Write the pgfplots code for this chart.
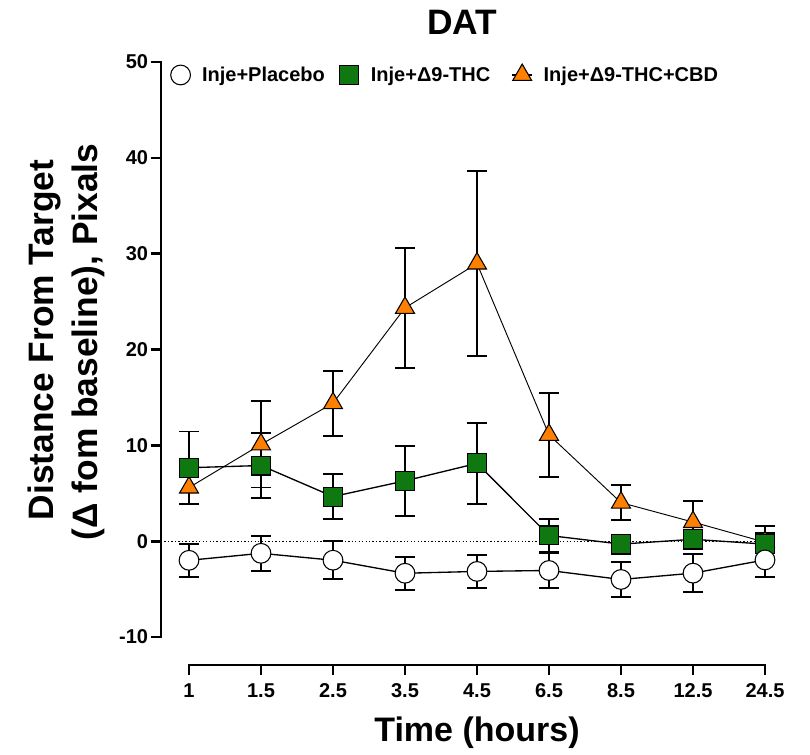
\documentclass[border=0pt]{standalone}
\usepackage{pgfplots}
\pgfplotsset{compat=1.18}
\usepackage{fontspec}
\setmainfont{Liberation Sans}
\definecolor{dgreen}{RGB}{16,120,16}
\definecolor{orng}{RGB}{255,128,0}
\begin{document}
\begin{tikzpicture}
\begin{axis}[
 at={(120.75pt,67.5pt)}, anchor=south west,
 scale only axis, width=475.5pt, height=452.25pt,
 xmin=-0.3889, xmax=8.4167, ymin=-12.912, ymax=50,
 axis x line*=bottom, axis y line*=left,
 axis line style={draw=none},
 clip=false,
 xtick={0,...,8}, xticklabels={1,1.5,2.5,3.5,4.5,6.5,8.5,12.5,24.5},
 ytick={-10,0,10,20,30,40,50}, yticklabels={-10,0,10,20,30,40,50},
 tick align=outside, major tick length=7.5pt,
 tick style={line width=2pt, black},
 ticklabel style={font=\fontsize{15}{18}\selectfont\bfseries},
 xticklabel style={inner ysep=6.5pt},
 yticklabel style={inner xsep=2pt},
 legend columns=3,
 legend image code/.code={\draw[mark repeat=2,mark phase=2,#1] plot coordinates {(0.5pt,0pt) (8pt,0pt) (15.5pt,0pt)};},
 legend style={at={(axis cs:-0.2667,48.7)}, anchor=west, draw=none, fill=none, inner sep=0pt,
   font=\fontsize{15}{18}\selectfont\bfseries, nodes={inner sep=0pt},
   /tikz/every odd column/.append style={column sep=8.2pt},
   /tikz/every even column/.append style={column sep=9.6pt}},
]
\addlegendimage{black, line width=0.8pt, mark=*, mark size=7.4pt, mark options={fill=white, draw=black, line width=0.8pt}}
\addlegendentry{\makebox[93pt][l]{Inje+Placebo}}
\addlegendimage{black, line width=0.8pt, mark=square*, mark size=7.1pt, mark options={fill=dgreen, draw=black, line width=0.8pt}}
\addlegendentry{\makebox[96pt][l]{Inje+Δ9-THC}}
\addlegendimage{black, line width=0.8pt, mark=triangle*, mark size=8.2pt, mark options={fill=orng, draw=black, line width=0.8pt}}
\addlegendentry{Inje+Δ9-THC+CBD}

\draw[line width=2pt, line cap=rect] (axis cs:-0.3889,-10) -- (axis cs:-0.3889,50);
\draw[line width=2pt, line cap=rect] (axis cs:0,-12.912) -- (axis cs:8,-12.912);

\addplot[forget plot, black, line width=0.8pt, dash pattern=on 1pt off 1.6pt] coordinates {(-0.3889,0) (8,0)};

% Inje + D9-THC + CBD (triangles)
\addplot[forget plot, black, line width=0.7pt, mark=triangle*, mark size=8.2pt,
  mark options={fill=orng, draw=black, line width=0.8pt, solid},
  error bars/.cd, y dir=both, y explicit,
  error bar style={line width=1.4pt, black, solid},
  error mark options={rotate=90, mark size=7.5pt, line width=1.4pt, black}]
  table[row sep=\\, x index=0, y index=1, y error index=2] {
  x y e\\
  0 5.60 1.70\\
  1 10.10 4.50\\
  2 14.40 3.40\\
  3 24.35 6.25\\
  4 28.97 9.67\\
  5 11.10 4.40\\
  6 4.03 1.80\\
  7 2.00 2.22\\
  8 -0.10 1.00\\
  };

% Inje + D9-THC (squares)
\addplot[forget plot, black, line width=1pt, mark=square*, mark size=7.1pt,
  mark options={fill=dgreen, draw=black, line width=0.8pt, solid},
  error bars/.cd, y dir=both, y explicit,
  error bar style={line width=1.4pt, black, solid},
  error mark options={rotate=90, mark size=7.5pt, line width=1.4pt, black}]
  table[row sep=\\, x index=0, y index=1, y error index=2] {
  x y e\\
  0 7.67 3.78\\
  1 7.90 3.37\\
  2 4.66 2.33\\
  3 6.30 3.65\\
  4 8.12 4.26\\
  5 0.60 1.75\\
  6 -0.30 1.00\\
  7 0.20 1.00\\
  8 -0.30 1.90\\
  };

% Inje + Placebo (circles)
\addplot[forget plot, black, line width=1pt, mark=*, mark size=7.4pt,
  mark options={fill=white, draw=black, line width=0.8pt, solid},
  error bars/.cd, y dir=both, y explicit,
  error bar style={line width=1.4pt, black, solid},
  error mark options={rotate=90, mark size=7.5pt, line width=1.4pt, black}]
  table[row sep=\\, x index=0, y index=1, y error index=2] {
  x y e\\
  0 -1.99 1.70\\
  1 -1.26 1.85\\
  2 -1.98 1.98\\
  3 -3.34 1.74\\
  4 -3.15 1.75\\
  5 -3.05 1.86\\
  6 -3.99 1.86\\
  7 -3.33 1.97\\
  8 -1.95 1.74\\
  };
\end{axis}
\node[anchor=base, inner sep=0pt, font=\fontsize{26.5}{30}\selectfont\bfseries] at (346.5pt,540pt) {DAT};
\node[anchor=base, rotate=90, inner sep=0pt, font=\fontsize{26.5}{30}\selectfont\bfseries] at (39.75pt,311.25pt) {Distance From Target};
\node[anchor=base, rotate=90, inner sep=0pt, font=\fontsize{26.5}{30}\selectfont\bfseries] at (72.75pt,309.75pt) {(Δ fom baseline), Pixals};
\node[anchor=base, inner sep=0pt, font=\fontsize{25.5}{30}\selectfont\bfseries] at (357.75pt,9.75pt) {Time (hours)};
\pgfresetboundingbox
\path[use as bounding box] (0,0) rectangle (607.5pt,566.25pt);
\end{tikzpicture}
\end{document}
